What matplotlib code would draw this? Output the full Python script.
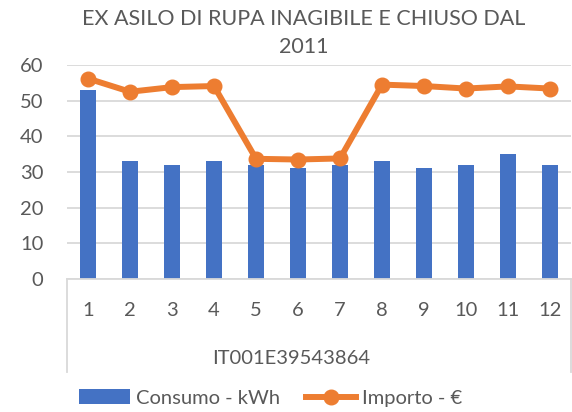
import matplotlib.pyplot as plt
from matplotlib.lines import Line2D
import numpy as np

months = ["1", "2", "3", "4", "5", "6", "7", "8", "9", "10", "11", "12"]
consumo_kwh = [53, 33, 32, 33, 32, 31, 32, 33, 31, 32, 35, 32]
importo_eur = [56.2, 52.5, 53.8, 54.1, 33.7, 33.5, 33.8, 54.5, 54.1, 53.4, 54.0, 53.4]
group_label = "IT001E39543864"
title = "EX ASILO DI RUPA INAGIBILE E CHIUSO DAL\n2011"

BLUE = "#4472C4"
ORANGE = "#ED7D31"
TEXT = "#595959"
GRID = "#D9D9D9"

plt.rcParams['font.family'] = ['Lato', 'DejaVu Sans']

fig = plt.figure(figsize=(5.72, 4.12), dpi=100)
ax = fig.add_axes([67 / 572, 1 - 279 / 412, 504 / 572, 214 / 412])

x = np.arange(len(months))
bars = ax.bar(x, consumo_kwh, width=0.4, color=BLUE, zorder=2, label="Consumo - kWh")
line, = ax.plot(x, importo_eur, color=ORANGE, linewidth=4.3, marker='o', markersize=10.5,
                zorder=3, label="Importo - €")

ax.set_xlim(-0.5, len(months) - 0.5)
ax.set_ylim(0, 60)
ax.set_yticks(range(0, 61, 10))
ax.yaxis.grid(True, color=GRID, linewidth=1.3, zorder=0)
ax.set_axisbelow(True)
for s in ['top', 'right', 'left']:
    ax.spines[s].set_visible(False)
ax.spines['bottom'].set_color(GRID)
ax.spines['bottom'].set_linewidth(1.3)
ax.tick_params(axis='y', length=0, pad=17, labelsize=14.5, labelcolor=TEXT)
ax.tick_params(axis='x', length=0, labelbottom=False)

# category labels and multi-level group label
for xi, m in zip(x, months):
    ax.text(xi, -31 / 214, m, transform=ax.get_xaxis_transform(), ha='center', va='center',
            fontsize=14.5, color=TEXT)
ax.text((291 - 67) / 504, -79 / 214, group_label, transform=ax.transAxes, ha='center',
        va='center', fontsize=14.5, color=TEXT)
for xe in (0, 1):
    ax.add_line(Line2D([xe, xe], [0, -93 / 214], transform=ax.transAxes, color=GRID,
                       linewidth=1.3, clip_on=False))

fig.text(304 / 572, 1 - 33 / 412, title, ha='center', va='center', fontsize=15.5,
         color=TEXT, linespacing=1.45)

fig.legend(handles=[bars, line], loc='center', bbox_to_anchor=(271 / 572, 1 - 398 / 412),
           ncol=2, frameon=False, fontsize=14.5, labelcolor=TEXT, handlelength=2.5,
           handletextpad=0.3, columnspacing=1.3)

fig.savefig("out.png", dpi=100)
